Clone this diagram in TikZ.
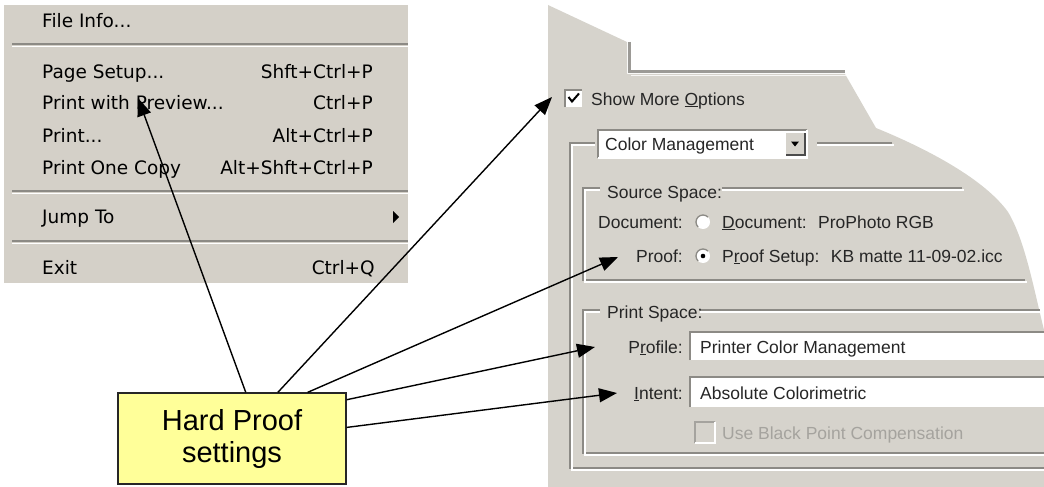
\documentclass[tikz,border=0pt]{standalone}
\usepackage{fontspec}
\setmainfont{Liberation Sans}
\newfontfamily\menufont{DejaVu Sans}
\usetikzlibrary{arrows.meta,calc}

\definecolor{menubg}{HTML}{D4D0C8}
\definecolor{dlgbg}{HTML}{D6D3CC}
\definecolor{etchdark}{HTML}{8C8A85}
\definecolor{tabline}{HTML}{9C9A96}
\definecolor{calloutfill}{HTML}{FFFF99}
\definecolor{dlgtext}{HTML}{262626}
\definecolor{greytext}{HTML}{A5A39E}

\begin{document}
\begin{tikzpicture}[x=1pt,y=-1pt,
  menuitem/.style={anchor=base west,inner sep=0pt,font=\menufont\fontsize{18.5}{20}\selectfont,text=black},
  menukey/.style={anchor=base east,inner sep=0pt,font=\menufont\fontsize{18.5}{20}\selectfont,text=black},
  dlgtxt/.style={anchor=base west,inner sep=0pt,font=\fontsize{17.5}{19}\selectfont,text=dlgtext},
  dlglabel/.style={dlgtxt,anchor=base east},
  etchD/.style={draw=etchdark,line width=1.3pt},
  etchL/.style={draw=white,line width=1.3pt},
  sunken/.style={draw=etchdark,line width=2pt},
  callout/.style={draw=black!85,line width=1.3pt,fill=calloutfill,
    minimum width=228pt,minimum height=91pt,inner sep=0pt,align=center,
    font=\fontsize{29}{32}\selectfont},
  pointer/.style={draw=black,line width=1.4pt,-{Triangle[length=18pt,width=14pt]}}
]
\useasboundingbox (0,0) rectangle (1044,487);
\fill[white] (0,0) rectangle (1044,487);

% ---------------- File menu ----------------
\fill[menubg] (4,5) rectangle (408,283);
\node[menuitem] (fileinfo) at (42,28) {File Info...};
\draw[etchD] (12,44) -- (408,44);
\draw[etchL] (12,46.5) -- (408,46.5);
\node[menuitem] (pagesetup) at (42,78) {Page Setup...};
\node[menukey]  (kpagesetup) at (373,78) {Shft+Ctrl+P};
\node[menuitem] (preview) at (42,110) {Print with Preview...};
\node[menukey]  (kpreview) at (373,110) {Ctrl+P};
\node[menuitem] (print) at (42,142) {Print...};
\node[menukey]  (kprint) at (373,142) {Alt+Ctrl+P};
\node[menuitem] (onecopy) at (42,174) {Print One Copy};
\node[menukey]  (konecopy) at (373,174) {Alt+Shft+Ctrl+P};
\draw[etchD] (12,191) -- (408,191);
\draw[etchL] (12,193.5) -- (408,193.5);
\node[menuitem] (jumpto) at (42,223) {Jump To};
\fill[black] (393,211) -- (399,217) -- (393,223) -- cycle;
\draw[etchD] (12,241) -- (408,241);
\draw[etchL] (12,243.5) -- (408,243.5);
\node[menuitem] (exit) at (42,274) {Exit};
\node[menukey]  (kexit) at (375,274) {Ctrl+Q};

% ---------------- Print dialog (cut-out) ----------------
\fill[dlgbg] (548,5) -- (627,42) -- (627,74) -- (845,74) -- (876,128)
  .. controls (930,150) and (985,180) .. (1008,212)
  .. controls (1025,240) and (1034,290) .. (1044,330)
  -- (1044,487) -- (548,487) -- cycle;
% tab edge
\draw[tabline,line width=3pt] (629,42) -- (629,71.5) -- (845,71.5);
\draw[white!80!dlgbg,line width=1.2pt] (631,75.5) -- (846,75.5);

% Show More Options
\fill[white] (565,90) rectangle (582,107);
\draw[sunken] (565,107) -- (565,90) -- (582,90);
\draw[black,line width=2pt] (568.5,97) -- (572,101.5) -- (579,93.5);
\node[dlgtxt] (showmore) at (591,105) {Show More \underline{O}ptions};

% outer group frame
\draw[etchD] (595,143) -- (570,143) -- (570,468) -- (1044,468);
\draw[etchL] (595,145) -- (572,145) -- (572,470) -- (1044,470);
\draw[etchD] (817,143) -- (892,143);
\draw[etchL] (817,145) -- (894,145);

% Color Management drop-down
\fill[white] (598,130) rectangle (807,158);
\draw[sunken] (598,158) -- (598,130) -- (807,130);
\draw[white,line width=1.3pt] (807,130) -- (807,158) -- (598,158);
\fill[dlgbg] (786,133) rectangle (805,155);
\draw[black!70,line width=1.3pt] (786,155) -- (805,155) -- (805,133);
\fill[black] (791,141.5) -- (799,141.5) -- (795,146.5) -- cycle;
\node[dlgtxt] (colormgmt) at (605,150) {Color Management};

% Source Space group
\draw[etchD] (600,188) -- (583,188) -- (583,280) -- (1025,280);
\draw[etchL] (600,190) -- (585,190) -- (585,282) -- (1027,282);
\draw[etchD] (722,188) -- (962,188);
\draw[etchL] (722,190) -- (964,190);
\node[dlgtxt] (sourcespace) at (607,198) {Source Space:};
\node[dlglabel] (doclabel) at (683,228) {Document:};
\fill[white] (703,222) circle (7);
\draw[etchD] (703,222) ++(-45:7) arc[start angle=-45,end angle=-225,radius=7];
\node[dlgtxt] (docvalue) at (722,228) {\underline{D}ocument:~ ProPhoto RGB};
\node[dlglabel] (prooflabel) at (683,262) {Proof:};
\fill[white] (703,256) circle (7);
\draw[etchD] (703,256) ++(-45:7) arc[start angle=-45,end angle=-225,radius=7];
\fill[black] (703,256) circle (2.3);
\node[dlgtxt] (proofvalue) at (722,262) {P\underline{r}oof Setup:~ KB matte 11-09-02.icc};

% Print Space group
\draw[etchD] (600,310) -- (583,310) -- (583,453) -- (1044,453);
\draw[etchL] (600,312) -- (585,312) -- (585,455) -- (1044,455);
\draw[etchD] (700,310) -- (1040,310);
\draw[etchL] (700,312) -- (1042,312);
\node[dlgtxt] (printspace) at (607,318) {Print Space:};
\node[dlglabel] (profilelabel) at (683,353) {P\underline{r}ofile:};
\fill[white] (690,332) rectangle (1044,360);
\draw[sunken] (690,360) -- (690,332) -- (1044,332);
\node[dlgtxt] (profilevalue) at (700,353) {Printer Color Management};
\node[dlglabel] (intentlabel) at (683,399) {\underline{I}ntent:};
\fill[white] (690,377) rectangle (1044,407);
\draw[sunken] (690,407) -- (690,377) -- (1044,377);
\node[dlgtxt] (intentvalue) at (700,399) {Absolute Colorimetric};
\draw[greytext,line width=1.5pt] (695,443) -- (695,422) -- (715,422);
\draw[white,line width=1.3pt] (715,422) -- (715,443) -- (695,443);
\node[dlgtxt,text=greytext] (blackpoint) at (722,439) {Use Black Point Compensation};

% ---------------- Callout ----------------
\node[callout] (hp) at (232,438.5) {Hard Proof\\settings};

% arrow targets
\coordinate (tPreview) at (138,98);
\coordinate (tShow) at (552,97);
\coordinate (tProof) at (618,257);
\coordinate (tProfile) at (595,347);
\coordinate (tIntent) at (617,393);

\draw[pointer] ($(hp.north west)!0.56!(hp.north east)$) -- (tPreview);
\draw[pointer] ($(hp.north west)!0.70!(hp.north east)$) -- (tShow);
\draw[pointer] ($(hp.north west)!0.83!(hp.north east)$) -- (tProof);
\draw[pointer] ($(hp.north east)!0.08!(hp.south east)$) -- (tProfile);
\draw[pointer] ($(hp.north east)!0.38!(hp.south east)$) -- (tIntent);
\end{tikzpicture}
\end{document}
